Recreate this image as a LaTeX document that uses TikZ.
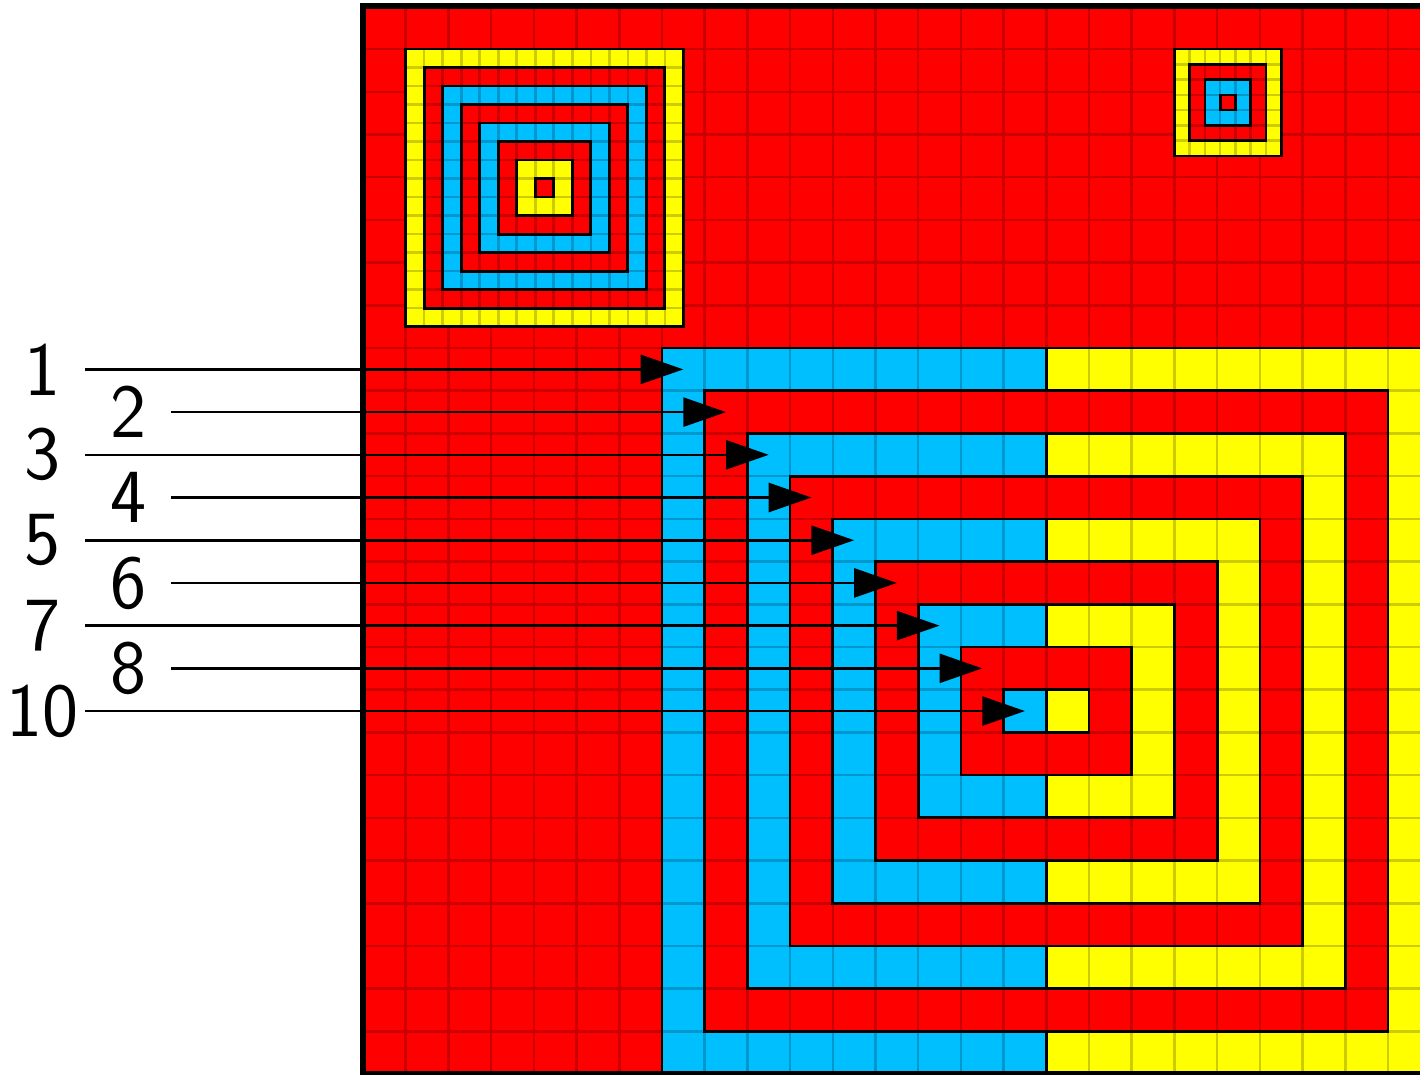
\documentclass[tikz,border=0pt]{standalone}
\usepackage{tikz}
\usetikzlibrary{arrows.meta}
\definecolor{skyblue}{RGB}{0,191,255}
\definecolor{lemon}{RGB}{255,255,0}

\begin{document}
\begin{tikzpicture}[
  ring/.style={draw=black, line width=1.8pt},
  gridline/.style={draw=black, opacity=0.2, line width=1.7pt},
  arr/.style={-{Triangle[length=1cm, width=0.68cm]}, line width=1.7pt},
  lbl/.style={font=\fontsize{51}{60}\selectfont\sffamily, inner sep=0pt}
]
\useasboundingbox (-8.5,0) rectangle (24.75,25.15);

% ----- Fond rouge -----
\fill[red] (0,0) rectangle (25,25);

% ----- Cadres emboites (niveau 8 -> niveau 0) -----
\draw[ring, fill=skyblue] (7,0) rectangle (16,17);
\draw[ring, fill=lemon]   (16,0) rectangle (25,17);
\draw[ring, fill=red]     (8,1) rectangle (24,16);
\draw[ring, fill=skyblue] (9,2) rectangle (16,15);
\draw[ring, fill=lemon]   (16,2) rectangle (23,15);
\draw[ring, fill=red]     (10,3) rectangle (22,14);
\draw[ring, fill=skyblue] (11,4) rectangle (16,13);
\draw[ring, fill=lemon]   (16,4) rectangle (21,13);
\draw[ring, fill=red]     (12,5) rectangle (20,12);
\draw[ring, fill=skyblue] (13,6) rectangle (16,11);
\draw[ring, fill=lemon]   (16,6) rectangle (19,11);
\draw[ring, fill=red]     (14,7) rectangle (18,10);
\draw[ring, fill=skyblue] (15,8) rectangle (16,9);
\draw[ring, fill=lemon]   (16,8) rectangle (17,9);

% ----- Quadrillage -----
\draw[gridline] (0,0) grid (25,25);

% ----- Petit carre (haut gauche) -----
\begin{scope}[shift={(1,17.5)}, x=0.433333cm, y=0.433333cm]
  \foreach \c [count=\j from 0] in {lemon,red,skyblue,red,skyblue,red,lemon,red}
    \draw[ring, fill=\c] (\j,\j) rectangle (15-\j,15-\j);
  \foreach \k in {1,...,14} {
    \draw[gridline] (\k,0) -- (\k,15);
    \draw[gridline] (0,\k) -- (15,\k);
  }
\end{scope}

% ----- Petit carre (haut droite) -----
\begin{scope}[shift={(19,21.5)}, x=0.357143cm, y=0.357143cm]
  \foreach \c [count=\j from 0] in {lemon,red,skyblue,red}
    \draw[ring, fill=\c] (\j,\j) rectangle (7-\j,7-\j);
  \foreach \k in {1,...,6} {
    \draw[gridline] (\k,0) -- (\k,7);
    \draw[gridline] (0,\k) -- (7,\k);
  }
\end{scope}

% ----- Bordure -----
\draw[line width=4pt] (0,0) rectangle (25,25);

% ----- Etiquettes -----
\node[lbl] (n1)  at (-7.5,16.5) {1};
\node[lbl] (n2)  at (-5.5,15.5) {2};
\node[lbl] (n3)  at (-7.5,14.5) {3};
\node[lbl] (n4)  at (-5.5,13.5) {4};
\node[lbl] (n5)  at (-7.5,12.5) {5};
\node[lbl] (n6)  at (-5.5,11.5) {6};
\node[lbl] (n7)  at (-7.5,10.5) {7};
\node[lbl] (n8)  at (-5.5,9.5)  {8};
\node[lbl] (n10) at (-7.5,8.5)  {10};

% ----- Departs et pointes -----
\coordinate (d1)  at (-6.5,16.5); \coordinate (f1)  at (7.5,16.5);
\coordinate (d2)  at (-4.5,15.5); \coordinate (f2)  at (8.5,15.5);
\coordinate (d3)  at (-6.5,14.5); \coordinate (f3)  at (9.5,14.5);
\coordinate (d4)  at (-4.5,13.5); \coordinate (f4)  at (10.5,13.5);
\coordinate (d5)  at (-6.5,12.5); \coordinate (f5)  at (11.5,12.5);
\coordinate (d6)  at (-4.5,11.5); \coordinate (f6)  at (12.5,11.5);
\coordinate (d7)  at (-6.5,10.5); \coordinate (f7)  at (13.5,10.5);
\coordinate (d8)  at (-4.5,9.5);  \coordinate (f8)  at (14.5,9.5);
\coordinate (d10) at (-6.5,8.5);  \coordinate (f10) at (15.5,8.5);

% ----- Fleches -----
\draw[arr] (d1) -- (f1);
\draw[arr] (d2) -- (f2);
\draw[arr] (d3) -- (f3);
\draw[arr] (d4) -- (f4);
\draw[arr] (d5) -- (f5);
\draw[arr] (d6) -- (f6);
\draw[arr] (d7) -- (f7);
\draw[arr] (d8) -- (f8);
\draw[arr] (d10) -- (f10);

\end{tikzpicture}
\end{document}
